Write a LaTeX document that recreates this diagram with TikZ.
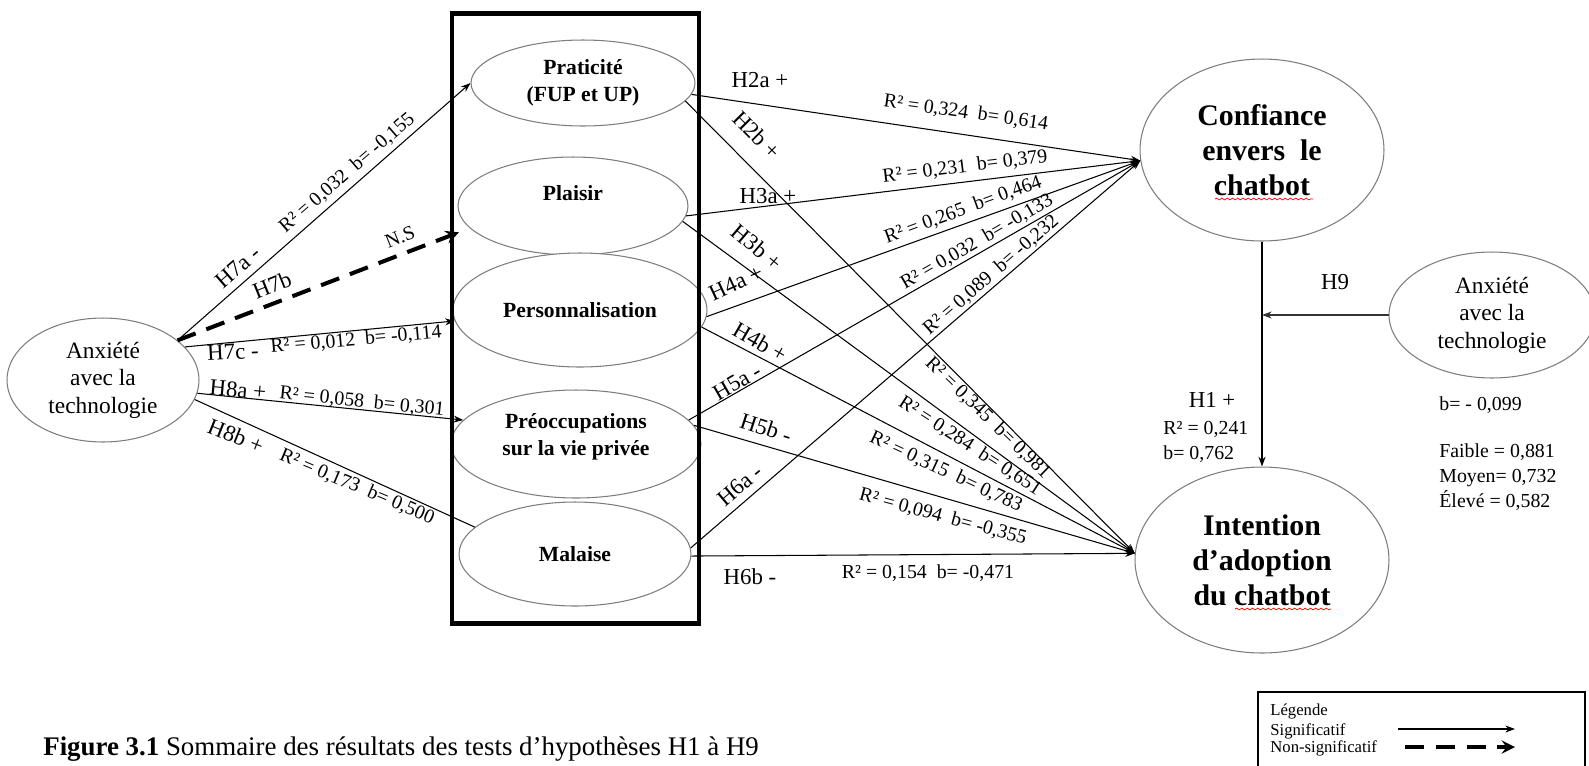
\documentclass[tikz,border=0pt]{standalone}
\usepackage{fontspec}
\setmainfont{Liberation Serif}
\usetikzlibrary{arrows.meta,shapes.geometric,decorations.pathmorphing}
\definecolor{rimgray}{RGB}{125,125,125}
\newcommand\hypfont{\fontsize{13}{15.6}\selectfont}
\newcommand\coeffont{\fontsize{11.3}{13.5}\selectfont}
\newcommand\cnfont{\fontsize{13.3}{15.6}\selectfont}
\newcommand\ibfont{\bfseries\fontsize{12.3}{15.3}\selectfont}
\newcommand\bigcnfont{\bfseries\fontsize{17}{20}\selectfont}
\newcommand\statfont{\fontsize{11.3}{14.2}\selectfont}
\newcommand\lgdfont{\fontsize{9.5}{10.2}\selectfont}
\newcommand\capfont{\fontsize{15.3}{18}\selectfont}
\tikzset{%
  construct/.style = { ellipse, draw=rimgray, fill=white, line width=0.6pt, inner sep=0pt, align=center },
  sig/.style = { draw=black, line width=0.6pt, >={Stealth[length=5.5pt,width=4pt]}, -> },
  nonsig/.style = { draw=black, line width=2.3pt, dash pattern=on 11pt off 6.5pt, >=stealth, -> },
  hyp/.style = { font=\hypfont, inner sep=0pt },
  coef/.style = { font=\coeffont, inner sep=0pt },
  stat/.style = { font=\statfont, inner sep=0pt, align=left, anchor=west },
  lgd/.style = { font=\lgdfont, inner sep=0pt, anchor=base west },
  squiggle/.style = { red, line width=0.4pt, decorate, decoration={snake, amplitude=0.5pt, segment length=3pt} }
}

\begin{document}
\begin{tikzpicture}[x=0.02cm, y=-0.02cm]
  \useasboundingbox (0,0) rectangle (1589,765);

  % constructs
  \node[construct, font=\cnfont, minimum width=3.84cm, minimum height=2.48cm] (anx) at (103,380) {Anxiété\\avec la\\technologie};
  \node[construct, font=\ibfont, minimum width=4.48cm, minimum height=1.72cm] (prat) at (583,83) {Praticité\\(FUP et UP)};
  \node[construct, font=\ibfont, minimum width=4.6cm, minimum height=1.96cm, text depth=0.52cm] (plai) at (573,206) {Plaisir};
  \node[construct, font=\ibfont, minimum width=5.08cm, minimum height=2.28cm] (pers) at (580,310) {Personnalisation};
  \node[construct, font=\ibfont, minimum width=5.0cm, minimum height=2.16cm, text depth=0.37cm] (preo) at (576,444) {Préoccupations\\sur la vie privée};
  \node[construct, font=\ibfont, minimum width=4.64cm, minimum height=2.08cm] (mal) at (575,554) {Malaise};
  \node[construct, font=\bigcnfont, minimum width=4.88cm, minimum height=3.64cm] (conf) at (1262,150) {Confiance\\envers\ \ le\\chatbot};
  \node[construct, font=\bigcnfont, minimum width=5.08cm, minimum height=3.72cm] (int) at (1262,560) {Intention\\d’adoption\\du chatbot};
  \node[construct, font=\cnfont, minimum width=4.12cm, minimum height=2.52cm] (anx2) at (1492,315) {Anxiété\\avec la\\technologie};

  % mediators frame
  \node[draw, line width=2.8pt, inner sep=0pt, minimum width=4.94cm, minimum height=12.22cm] (box) at (575.5,318.5) {};

  % spelling marks
  \draw[squiggle] (1215,199) -- (1313,199);
  \draw[squiggle] (1235,609) -- (1331,609);

  % anxiety -> mediators
  \draw[sig] (anx.28) -- (prat.west);
  \draw[nonsig, shorten >=-0.2cm] (anx.28) -- (box.west |- plai.198);
  \draw[sig] (anx.22) -- (pers.185);
  \draw[sig] (anx.-8) -- (preo.168);
  \draw[sig, -] (anx.-12) -- (mal.165);

  % mediators -> outcomes
  \foreach \src/\a/\b in {prat/-6/-10, plai/-5/-8, pers/-3/-8, preo/12/9, mal/3/-1} {
    \draw[sig] (\src.\a) -- (conf.185);
    \draw[sig] (\src.\b) -- (int.177);
  }

  % H1 and H9
  \draw[sig, line width=1pt] (conf.south) -- (int.north);
  \draw[sig, draw=black!80] (anx2.west) -- (conf.south |- anx2.west);

  % left labels
  \node[hyp, rotate=41] (t7a) at (238,267) {H7a -};
  \node[coef, rotate=41] (c7a) at (347,173) {R² = 0,032\ \ b= -0,155};
  \node[hyp, rotate=22] (t7b) at (272,285) {H7b};
  \node[coef, rotate=22] (tns) at (400,237) {N.S};
  \node[hyp, rotate=3] (t7c) at (233,352) {H7c -};
  \node[coef, rotate=5] (c7c) at (356,340) {R² = 0,012\ \ b= -0,114};
  \node[hyp, rotate=-5] (t8a) at (238,390) {H8a +};
  \node[coef, rotate=-6] (c8a) at (362,402) {R² = 0,058\ \ b= 0,301};
  \node[hyp, rotate=-22] (t8b) at (236,436) {H8b +};
  \node[coef, rotate=-23] (c8b) at (357,487) {R² = 0,173\ \ b= 0,500};

  % right labels
  \node[hyp] (t2a) at (760,80) {H2a +};
  \node[coef, rotate=-8] (c2a) at (966,113) {R² = 0,324\ \ b= 0,614};
  \node[hyp, rotate=-45] (t2b) at (757,135) {H2b +};
  \node[hyp] (t3a) at (768,196) {H3a +};
  \node[coef, rotate=7] (c3a) at (965,167) {R² = 0,231\ \ b= 0,379};
  \node[hyp, rotate=-40] (t3b) at (757,247) {H3b +};
  \node[hyp, rotate=25] (t4a) at (736,283) {H4a +};
  \node[coef, rotate=20] (c4a) at (963,210) {R² = 0,265\ \ b= 0,464};
  \node[hyp, rotate=-30] (t4b) at (760,342) {H4b +};
  \node[hyp, rotate=30] (t5a) at (737,382) {H5a -};
  \node[coef, rotate=30] (c5a) at (977,242) {R² = 0,032\ \ b= -0,133};
  \node[hyp, rotate=-18] (t5b) at (766,428) {H5b -};
  \node[hyp, rotate=40] (t6a) at (740,485) {H6a -};
  \node[coef, rotate=41] (c6a) at (991,275) {R² = 0,089\ \ b= -0,232};
  \node[hyp] (t6b) at (750,577) {H6b -};
  \node[coef] (c6b) at (928,573) {R² = 0,154\ \ b= -0,471};
  \node[coef, rotate=-44] (c2b) at (988,418) {R² = 0,345\ \ b= 0,981};
  \node[coef, rotate=-33] (c3b) at (970,446) {R² = 0,284\ \ b= 0,651};
  \node[coef, rotate=-25] (c4b) at (946,472) {R² = 0,315\ \ b= 0,783};
  \node[coef, rotate=-15] (c5b) at (943,517) {R² = 0,094\ \ b= -0,355};

  % outcome labels
  \node[hyp] (t1) at (1212,400) {H1 +};
  \node[stat] (c1) at (1163,442) {R² = 0,241\\b= 0,762};
  \node[hyp] (t9) at (1335,282) {H9};
  \node[stat] (c9) at (1439,405) {b= - 0,099};
  \node[stat] (grp) at (1439,477) {Faible = 0,881\\Moyen= 0,732\\Élevé = 0,582};

  % legend
  \draw[line width=0.6pt] (1258,692) rectangle (1585,780);
  \node[lgd] (lgd) at (1270,715) {Légende};
  \node[lgd] (lsig) at (1270,735) {Significatif};
  \node[lgd] (lns) at (1270,752) {Non-significatif};
  \coordinate (s0) at (1398,729);
  \coordinate (s1) at (1515,729);
  \coordinate (n0) at (1405,747);
  \coordinate (n1) at (1515,747);
  \draw[sig] (s0) -- (s1);
  \draw[nonsig] (n0) -- (n1);

  % caption
  \node[font=\capfont, inner sep=0pt, anchor=base west] (cap) at (43,755) {\textbf{Figure 3.1} Sommaire des résultats des tests d’hypothèses H1 à H9};
\end{tikzpicture}
\end{document}
